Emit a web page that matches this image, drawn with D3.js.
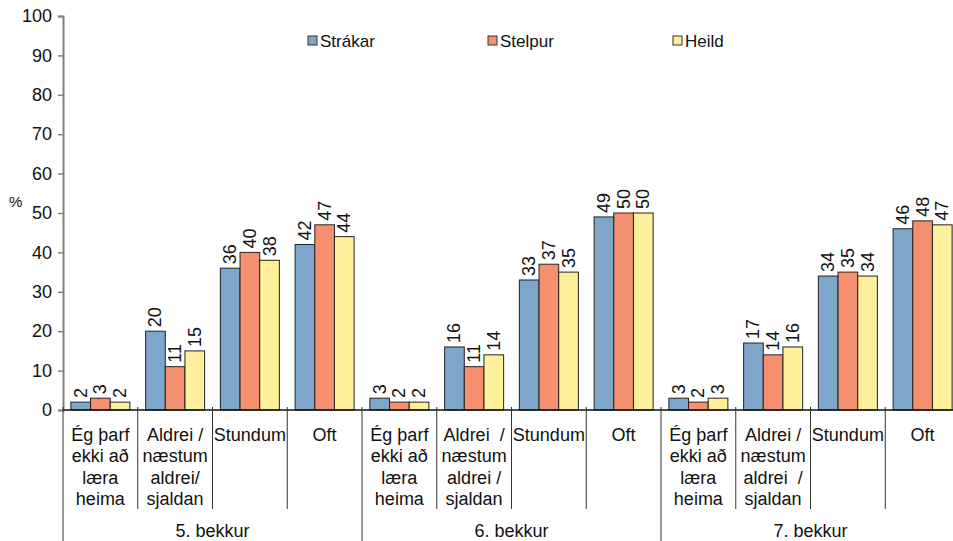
<!DOCTYPE html>
<html>
<head>
<meta charset="utf-8">
<script src="https://cdn.jsdelivr.net/npm/d3@7"></script>
<style>
  body { margin: 0; background: #fff; }
  text { font-family: "Liberation Sans", Arial, sans-serif; fill: #111; }
</style>
</head>
<body>
<svg width="953" height="541"></svg>
<script>
'use strict';

// data
var series = ["Strákar", "Stelpur", "Heild"];
var colors = ["#7ea6cb", "#f4906f", "#fdef9b"];
var groups = ["5. bekkur", "6. bekkur", "7. bekkur"];
var catLabels = [
  ["Ég þarf", "ekki að", "læra", "heima"],
  ["Aldrei /", "næstum", "aldrei/", "sjaldan"],
  ["Stundum"],
  ["Oft"],
  ["Ég þarf", "ekki að", "læra", "heima"],
  ["Aldrei  /", "næstum", "aldrei /", "sjaldan"],
  ["Stundum"],
  ["Oft"],
  ["Ég þarf", "ekki að", "læra", "heima"],
  ["Aldrei /", "næstum", "aldrei  /", "sjaldan"],
  ["Stundum"],
  ["Oft"]
];
var strakar = [2, 20, 36, 42, 3, 16, 33, 49, 3, 17, 34, 46];
var stelpur = [3, 11, 40, 47, 2, 11, 37, 50, 2, 14, 35, 48];
var heild   = [2, 15, 38, 44, 2, 14, 35, 50, 3, 16, 34, 47];
var yTicks = [0, 10, 20, 30, 40, 50, 60, 70, 80, 90, 100];

var values = [strakar, stelpur, heild];
var svg = d3.select("svg");
var mLeft = 63, mRight = 960, mTop = 16, mBottom = 410;

var x = d3.scaleBand().domain(d3.range(catLabels.length)).range([mLeft, mRight]);
var xs = d3.scaleBand().domain(d3.range(series.length)).range([0, x.bandwidth()]).paddingOuter(0.4);
var y = d3.scaleLinear().domain([0, 100]).range([mBottom, mTop]);

// bars
var catG = svg.selectAll(".cat")
    .data(catLabels)
    .enter().append("g")
    .attr("class", "cat")
    .attr("transform", function(d, i) { return "translate(" + x(i) + ",0)"; });

series.forEach(function(s, si) {
  catG.append("rect")
      .attr("x", xs(si))
      .attr("width", xs.bandwidth())
      .attr("y", function(d, i) { return y(values[si][i]); })
      .attr("height", function(d, i) { return y(0) - y(values[si][i]); })
      .attr("fill", colors[si])
      .attr("stroke", "#222")
      .attr("stroke-width", 1);

  catG.append("text")
      .attr("transform", function(d, i) {
        return "translate(" + (xs(si) + xs.bandwidth() / 2) + "," + (y(values[si][i]) - 4) + ") rotate(-90)";
      })
      .attr("dominant-baseline", "central")
      .style("font-size", "18px")
      .text(function(d, i) { return values[si][i]; });
});

// y axis
var yAxis = d3.axisLeft(y).tickValues(yTicks).tickSize(5).tickPadding(6);
var yg = svg.append("g")
    .attr("transform", "translate(" + mLeft + ",0)")
    .call(yAxis);
yg.select(".domain").attr("stroke", "#808080").attr("stroke-width", 2);
yg.selectAll(".tick line").attr("stroke", "#808080").attr("stroke-width", 1.5);
yg.selectAll(".tick text").style("font-size", "18px").style("font-family", "Liberation Sans, Arial, sans-serif").attr("fill", "#111");

svg.append("text")
    .attr("x", 9).attr("y", 207)
    .style("font-size", "15px")
    .text("%");

// x axis line
svg.append("line")
    .attr("x1", mLeft).attr("x2", mRight)
    .attr("y1", y(0)).attr("y2", y(0))
    .attr("stroke", "#111").attr("stroke-width", 1.5);

// separators: short between categories, long between groups
d3.range(catLabels.length + 1).forEach(function(i) {
  var xp = i < catLabels.length ? x(i) : mRight;
  var isGroup = i % 4 === 0;
  svg.append("line")
      .attr("x1", xp).attr("x2", xp)
      .attr("y1", y(0) - 3)
      .attr("y2", isGroup ? 541 : 509)
      .attr("stroke", "#333").attr("stroke-width", 1);
});

// category labels
catG.each(function(lines) {
  var t = d3.select(this).append("text")
      .attr("text-anchor", "middle")
      .style("font-size", "18px");
  lines.forEach(function(line, li) {
    t.append("tspan")
        .attr("x", x.bandwidth() / 2)
        .attr("y", 435 + li * 21.3)
        .attr("dominant-baseline", "central")
        .style("white-space", "pre")
        .text(line);
  });
});

// group labels
groups.forEach(function(g, gi) {
  svg.append("text")
      .attr("x", x(gi * 4) + x.bandwidth() * 2)
      .attr("y", 531)
      .attr("text-anchor", "middle")
      .attr("dominant-baseline", "central")
      .style("font-size", "18px")
      .text(g);
});

// legend
var legendX = [308, 488, 673];
series.forEach(function(s, si) {
  svg.append("rect")
      .attr("x", legendX[si]).attr("y", 36)
      .attr("width", 9).attr("height", 9)
      .attr("fill", colors[si])
      .attr("stroke", "#333").attr("stroke-width", 1);
  svg.append("text")
      .attr("x", legendX[si] + 12).attr("y", 41)
      .attr("dominant-baseline", "central")
      .style("font-size", "17px")
      .text(s);
});
</script>
</body>
</html>
